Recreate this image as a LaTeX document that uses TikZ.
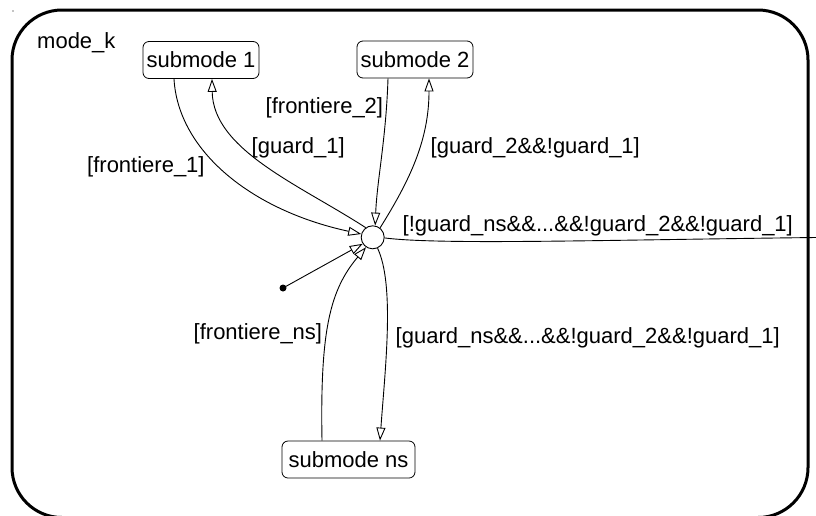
\documentclass[tikz,border=0pt]{standalone}
\usepackage{fontspec}
\setmainfont{Liberation Sans}
\usetikzlibrary{arrows.meta,calc}
\begin{document}
\begin{tikzpicture}[x=1pt,y=-1pt,
  every node/.style={font=\fontsize{22}{26}\selectfont},
  submode/.style={draw, rounded corners=6pt, line width=0.8pt, minimum height=37pt, inner sep=0pt},
  junction/.style={draw, circle, minimum size=23pt, inner sep=0pt, line width=0.9pt},
  trans/.style={line width=0.9pt, -{Triangle[open,length=13pt,width=9pt]}},
  plain/.style={line width=0.9pt},
  guard/.style={anchor=base west, inner sep=0pt}
]
\useasboundingbox (0,0) rectangle (816,515);

% outer state (its lower edge runs just below the page)
\draw[line width=3pt, rounded corners=50pt] (12,10) rectangle (808,517.5);
\fill (13,11) circle (0.7);
\node[guard] (modek) at (37,48) {mode\_k};

% substates and the junction
\node[submode, minimum width=116pt] (s1) at (201,60) {submode 1};
\node[submode, minimum width=116pt] (s2) at (415,59.5) {submode 2};
\node[submode, minimum width=133pt] (sns) at (348.5,459.5) {submode ns};
\node[junction] (j) at (372.7,237.3) {};

% initial pseudostate
\fill (283,288) circle (3.5) coordinate (init);
\coordinate (exit) at (816,237.5);

% transitions
\draw[trans] ($(s1.south)+(-27,0)$) .. controls (178,150) and (250,210) .. (j.164);
\draw[trans] (j.126) .. controls (300,185) and (213,150) .. ($(s1.south)+(11,0)$);
\draw[trans] ($(s2.south)+(-27,0)$) .. controls (386,140) and (377,180) .. (j.78);
\draw[trans] (j.52) .. controls (410,180) and (429,140) .. ($(s2.south)+(14,0)$);
\draw[plain] (j.357) .. controls (440,245) and (600,240) .. (exit);
\draw[trans] (init) -- (j.213);
\draw[trans] ($(sns.north)+(-26.5,0)$) .. controls (320,330) and (330,290) .. (j.236);
\draw[trans] (j.294) .. controls (395,285) and (385,370) .. ($(sns.north)+(31.5,0)$);

% guards
\node[guard] (g1) at (87,172) {[frontiere\_1]};
\node[guard] (g2) at (251.5,153) {[guard\_1]};
\node[guard] (g3) at (265.5,113) {[frontiere\_2]};
\node[guard] (g4) at (430.5,153) {[guard\_2\&\&!guard\_1]};
\node[guard] (g5) at (402.5,231.5) {[!guard\_ns\&\&...\&\&!guard\_2\&\&!guard\_1]};
\node[guard] (g6) at (193.5,339) {[frontiere\_ns]};
\node[guard] (g7) at (395.5,343) {[guard\_ns\&\&...\&\&!guard\_2\&\&!guard\_1]};
\end{tikzpicture}
\end{document}
